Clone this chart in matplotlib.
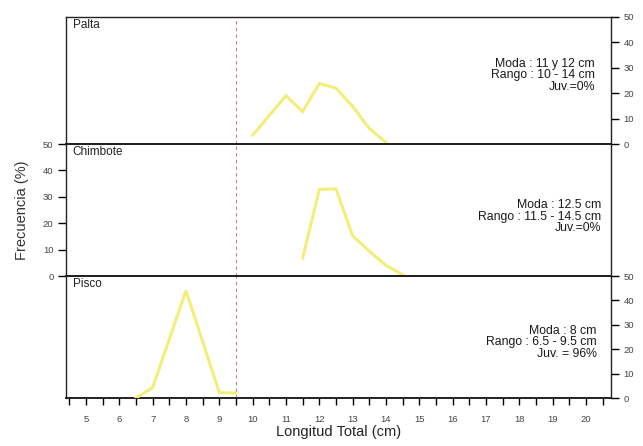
import matplotlib
matplotlib.use("Agg")
import matplotlib.pyplot as plt
from matplotlib.ticker import MultipleLocator

plt.rcParams['font.family'] = ['Liberation Sans', 'DejaVu Sans']

# Data (Longitud total, cm ; Frecuencia, %)
palta_x = [10, 11, 11.5, 12, 12.5, 13, 13.5, 14]
palta_y = [3.5, 19, 12.8, 23.8, 22, 14.8, 6.1, 0.6]
chimbote_x = [11.5, 12, 12.5, 13, 13.5, 14, 14.5]
chimbote_y = [6.8, 32.8, 33, 15.2, 9.4, 4, 0.5]
pisco_x = [6.5, 7, 8, 9, 9.5]
pisco_y = [0, 4.3, 44, 2.2, 2]

panels = ["Palta", "Chimbote", "Pisco"]
notes = [
    "Moda : 11 y 12 cm\nRango : 10 - 14 cm\nJuv.=0%",
    "Moda : 12.5 cm\nRango : 11.5 - 14.5 cm\nJuv.=0%",
    "Moda : 8 cm\nRango : 6.5 - 9.5 cm\nJuv. = 96%",
]
ytick_vals = [0, 10, 20, 30, 40, 50]
xtick_vals = list(range(5, 21))
juv_limit = 9.5

W, H = 643, 446
fig = plt.figure(figsize=(W / 100, H / 100), dpi=100)
fig.patch.set_facecolor('white')

left = 66 / W
right = 611 / W
edges = [17, 144, 276, 398]  # pixel y of panel borders
axes = []
for i in range(3):
    top = 1 - edges[i] / H
    bot = 1 - edges[i + 1] / H
    ax = fig.add_axes([left, bot, right - left, top - bot])
    axes.append(ax)

series = [(palta_x, palta_y), (chimbote_x, chimbote_y), (pisco_x, pisco_y)]
note_pos = [(0.971, 0.54), (0.983, 0.45), (0.974, 0.455)]
yellow = '#f3ee78'
for i, ax in enumerate(axes):
    x, y = series[i]
    ax.plot(x, y, color=yellow, lw=2.2, solid_joinstyle='miter', zorder=3)
    ax.set_xlim(4.4, 20.75)
    ax.set_ylim(0, 50)
    ax.axvline(juv_limit, color='#cc7777', lw=0.8, linestyle=(0, (3, 3)), zorder=2)
    for s in ax.spines.values():
        s.set_linewidth(1.0)
        s.set_color('#222222')
    ax.spines['top'].set_linewidth(1.4 if i > 0 else 1.0)
    ax.spines['bottom'].set_linewidth(1.4)
    ax.text(0.012, 0.985, panels[i], transform=ax.transAxes, ha='left', va='top',
            fontsize=8.5, color='#222222')
    ax.text(note_pos[i][0], note_pos[i][1], notes[i], transform=ax.transAxes,
            ha='right', va='center', fontsize=8.8, linespacing=0.95, color='#1a1a1a')
    ax.xaxis.set_major_locator(MultipleLocator(1))
    ax.xaxis.set_minor_locator(MultipleLocator(0.5))
    ax.set_yticks(ytick_vals)
    if i == 1:
        ax.tick_params(axis='y', which='both', left=True, right=False, labelleft=True,
                       labelright=False, direction='out', length=6, width=1,
                       labelsize=6.8, labelcolor='#444444', pad=3)
    else:
        ax.tick_params(axis='y', which='both', left=False, right=True, labelleft=False,
                       labelright=True, direction='out', length=6, width=1,
                       labelsize=6.8, labelcolor='#444444', pad=3)
    if i == 2:
        ax.set_xticks(xtick_vals)
        ax.tick_params(axis='x', which='both', bottom=True, top=False, labelbottom=True,
                       direction='out', length=5, width=1, labelsize=6.8,
                       labelcolor='#444444', pad=7)
        ax.set_xlabel("Longitud Total (cm)", fontsize=10.5, color='#222222', labelpad=1)
    else:
        ax.tick_params(axis='x', which='both', bottom=False, top=False, labelbottom=False)
    ax.set_facecolor('none')

fig.text(22 / W, 1 - 210 / H, "Frecuencia (%)", rotation=90, ha='center', va='center',
         fontsize=10.5, color='#333333')

fig.savefig("out.png", dpi=100, facecolor='white')
